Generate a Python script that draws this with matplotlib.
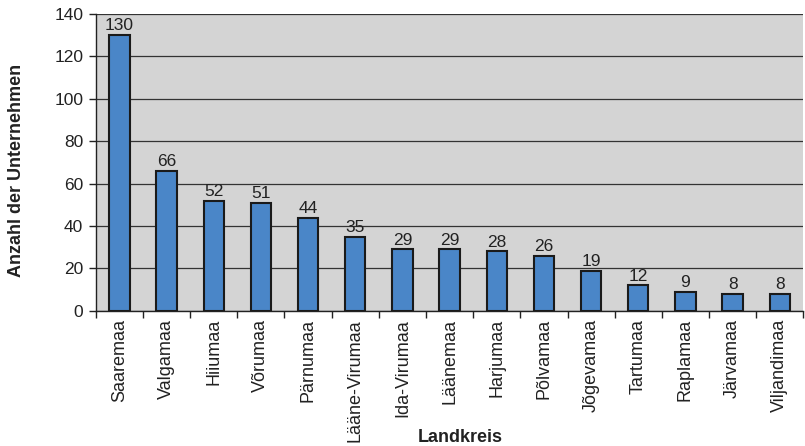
import matplotlib.pyplot as plt

plt.rcParams['font.family'] = ['Liberation Sans', 'DejaVu Sans']

# Unternehmen je Landkreis
landkreise = ['Saaremaa', 'Valgamaa', 'Hiiumaa', 'Võrumaa', 'Pärnumaa',
              'Lääne-Virumaa', 'Ida-Virumaa', 'Läänemaa', 'Harjumaa', 'Põlvamaa',
              'Jõgevamaa', 'Tartumaa', 'Raplamaa', 'Järvamaa', 'Viljandimaa']
anzahl = [130, 66, 52, 51, 44, 35, 29, 29, 28, 26, 19, 12, 9, 8, 8]

fig = plt.figure(figsize=(8.05, 4.46), dpi=100)
ax = fig.add_axes([0.119, 0.303, 0.879, 0.666])
ax.set_facecolor('#D4D4D4')

x = range(len(landkreise))
ax.bar(x, anzahl, width=0.43, color='#4A86C8', edgecolor='#1a1a1a',
       linewidth=1.5, zorder=3)

# Werte über den Balken
for xi, wert in zip(x, anzahl):
    ax.text(xi, wert + 0.8, str(wert), ha='center', va='bottom', fontsize=12.5,
            color='#222222', zorder=4)

ax.set_xlim(-0.5, len(landkreise) - 0.5)
ax.set_ylim(0, 140)
ax.set_yticks(range(0, 141, 20))
ax.yaxis.grid(True, color='#333333', linewidth=0.9, zorder=1)
ax.set_axisbelow(True)

# Teilstriche zwischen den Kategorien, Beschriftung mittig
ax.set_xticks([i - 0.5 for i in range(len(landkreise) + 1)])
ax.set_xticklabels([])
ax.set_xticks(list(x), minor=True)
ax.set_xticklabels(landkreise, minor=True, rotation=90, fontsize=13,
                   color='#222222')
ax.tick_params(axis='x', which='minor', length=0, pad=6)
ax.tick_params(axis='x', which='major', length=5, width=1, color='#222222')
ax.tick_params(axis='y', length=5, width=1, color='#222222', labelsize=12.5,
               labelcolor='#222222', pad=4)

for seite in ['top', 'right']:
    ax.spines[seite].set_visible(False)
for seite in ['left', 'bottom']:
    ax.spines[seite].set_color('#222222')
    ax.spines[seite].set_linewidth(1)

ax.set_xlabel('Landkreis', fontsize=13, fontweight='bold', color='#222222')
ax.set_ylabel('Anzahl der Unternehmen', fontsize=13, fontweight='bold',
              color='#222222')
ax.xaxis.set_label_coords(0.515, -0.426)
ax.yaxis.set_label_coords(-0.112, 0.472)
ax.xaxis.label.set_va('center')
ax.yaxis.label.set_va('center')

fig.savefig('out.png', dpi=100)
